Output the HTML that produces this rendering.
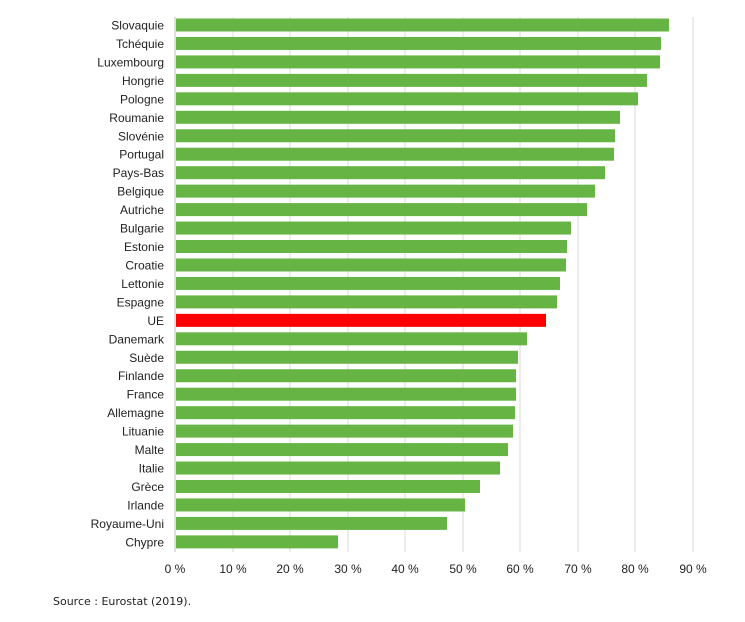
<!DOCTYPE html>
<html><head><meta charset="utf-8"><style>
body{margin:0;background:#fff;}
text{font-family:"Liberation Sans",Arial,sans-serif;font-size:12px;fill:#222;}
</style></head><body>
<svg width="745" height="617" xmlns="http://www.w3.org/2000/svg" font-family="Liberation Sans, Arial, sans-serif" font-size="12">
<g stroke="#d9d9d9" stroke-width="1">
<line x1="233" y1="17" x2="233" y2="552"/><line x1="290" y1="17" x2="290" y2="552"/>
<line x1="348" y1="17" x2="348" y2="552"/><line x1="405" y1="17" x2="405" y2="552"/>
<line x1="463" y1="17" x2="463" y2="552"/><line x1="520" y1="17" x2="520" y2="552"/>
<line x1="578" y1="17" x2="578" y2="552"/><line x1="635" y1="17" x2="635" y2="552"/>
<line x1="693" y1="17" x2="693" y2="552"/>
</g>
<line x1="175" y1="17" x2="175" y2="552" stroke="#bfbfbf"/>
<g fill="#66b444">
<rect x="176" y="18.5" width="493" height="13"/>
<rect x="176" y="36.96" width="485" height="13"/>
<rect x="176" y="55.42" width="484" height="13"/>
<rect x="176" y="73.88" width="471" height="13"/>
<rect x="176" y="92.34" width="462" height="13"/>
<rect x="176" y="110.8" width="444" height="13"/>
<rect x="176" y="129.26" width="439" height="13"/>
<rect x="176" y="147.72" width="438" height="13"/>
<rect x="176" y="166.18" width="429" height="13"/>
<rect x="176" y="184.64" width="419" height="13"/>
<rect x="176" y="203.1" width="411" height="13"/>
<rect x="176" y="221.56" width="395" height="13"/>
<rect x="176" y="240.02" width="391" height="13"/>
<rect x="176" y="258.48" width="390" height="13"/>
<rect x="176" y="276.94" width="384" height="13"/>
<rect x="176" y="295.4" width="381" height="13"/>
<rect x="176" y="313.86" width="370" height="13" fill="#ff0000"/>
<rect x="176" y="332.32" width="351" height="13"/>
<rect x="176" y="350.78" width="342" height="13"/>
<rect x="176" y="369.24" width="340" height="13"/>
<rect x="176" y="387.7" width="340" height="13"/>
<rect x="176" y="406.16" width="339" height="13"/>
<rect x="176" y="424.62" width="337" height="13"/>
<rect x="176" y="443.08" width="332" height="13"/>
<rect x="176" y="461.54" width="324" height="13"/>
<rect x="176" y="480" width="304" height="13"/>
<rect x="176" y="498.46" width="289" height="13"/>
<rect x="176" y="516.92" width="271" height="13"/>
<rect x="176" y="535.38" width="162" height="13"/>
</g>
<g text-anchor="end">
<text x="164" y="29.5">Slovaquie</text>
<text x="164" y="47.96">Tchéquie</text>
<text x="164" y="66.42">Luxembourg</text>
<text x="164" y="84.88">Hongrie</text>
<text x="164" y="103.34">Pologne</text>
<text x="164" y="121.8">Roumanie</text>
<text x="164" y="140.26">Slovénie</text>
<text x="164" y="158.72">Portugal</text>
<text x="164" y="177.18">Pays-Bas</text>
<text x="164" y="195.64">Belgique</text>
<text x="164" y="214.1">Autriche</text>
<text x="164" y="232.56">Bulgarie</text>
<text x="164" y="251.02">Estonie</text>
<text x="164" y="269.48">Croatie</text>
<text x="164" y="287.94">Lettonie</text>
<text x="164" y="306.4">Espagne</text>
<text x="164" y="324.86">UE</text>
<text x="164" y="343.32">Danemark</text>
<text x="164" y="361.78">Suède</text>
<text x="164" y="380.24">Finlande</text>
<text x="164" y="398.7">France</text>
<text x="164" y="417.16">Allemagne</text>
<text x="164" y="435.62">Lituanie</text>
<text x="164" y="454.08">Malte</text>
<text x="164" y="472.54">Italie</text>
<text x="164" y="491">Grèce</text>
<text x="164" y="509.46">Irlande</text>
<text x="164" y="527.92">Royaume-Uni</text>
<text x="164" y="546.38">Chypre</text>
</g>
<g text-anchor="middle">
<text x="175" y="573">0 %</text><text x="233" y="573">10 %</text><text x="290" y="573">20 %</text>
<text x="348" y="573">30 %</text><text x="405" y="573">40 %</text><text x="463" y="573">50 %</text>
<text x="520" y="573">60 %</text><text x="578" y="573">70 %</text><text x="635" y="573">80 %</text>
<text x="693" y="573">90 %</text>
</g>
<text x="53" y="605" style="font-family:'DejaVu Sans',Verdana,sans-serif;font-size:11px">Source : Eurostat (2019).</text>
</svg>
</body></html>
